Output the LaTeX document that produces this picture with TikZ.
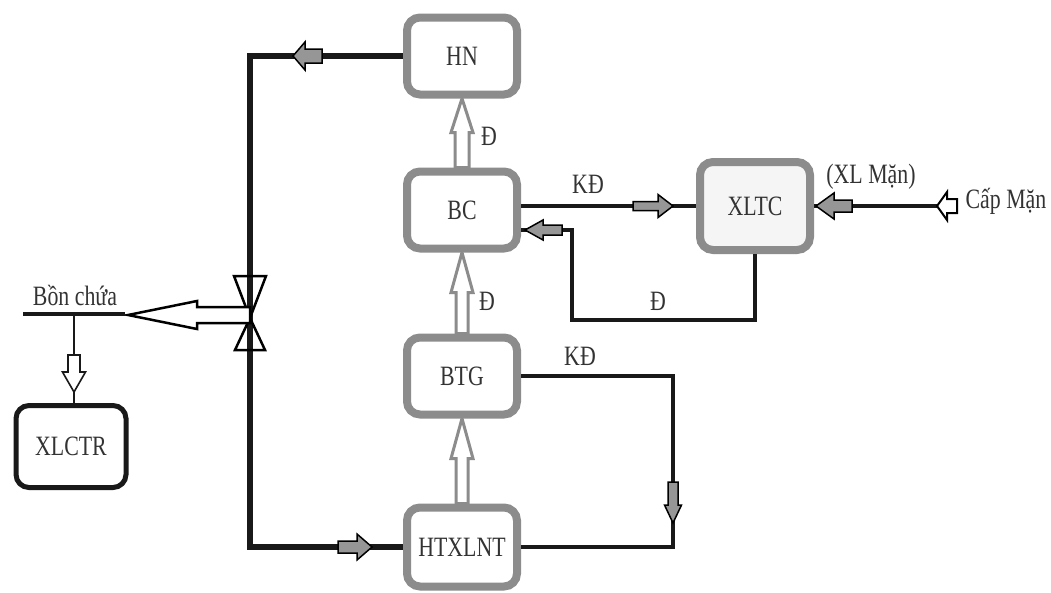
\documentclass[tikz,border=0pt]{standalone}
\usepackage{fontspec}
\setmainfont{Liberation Serif}[FakeStretch=0.78]
\usetikzlibrary{calc}
\definecolor{boxgray}{RGB}{140,140,140}
\definecolor{arrgray}{RGB}{150,150,150}
% #2 start, #3 tip, #4 head length, #5 shaft half width, #6 head half width
\newcommand\hollowarr[6][]{%
  \path (#2) coordinate (haS) (#3) coordinate (haT);
  \path ($(haT)!#4!(haS)$) coordinate (haH);
  \draw[#1] ($(haS)!#5!90:(haT)$) -- ($(haH)!#5!90:(haT)$) -- ($(haH)!#6!90:(haT)$)
    -- (haT) -- ($(haH)!#6!-90:(haT)$) -- ($(haH)!#5!-90:(haT)$) -- ($(haS)!#5!-90:(haT)$) -- cycle;}
\tikzset{
  box/.style={draw=boxgray, line width=8pt, rounded corners=13pt, fill=white,
    minimum width=110pt, minimum height=77pt, inner sep=0pt,
    font=\fontsize{28}{32}\selectfont, text=black!80},
  lbl/.style={font=\fontsize{28}{32}\selectfont, text=black!80, inner sep=0pt, anchor=base},
  pipe/.style={line width=5.5pt, draw=black!90, line join=miter},
  conn/.style={draw=boxgray, line width=3pt, fill=white, line join=miter},
  smallarr/.style={draw=black, line width=1.5pt, fill=arrgray, line join=miter},
  hollowblk/.style={draw=black, line width=2pt, fill=white, line join=miter}
}
\begin{document}
\begin{tikzpicture}[x=1pt,y=-1pt]
\useasboundingbox[fill=white] (0,0) rectangle (1051,592);
% boxes
\node[box] (hn) at (462,56) {HN};
\node[box] (bc) at (462,210) {BC};
\node[box] (btg) at (462,376) {BTG};
\node[box, minimum height=79pt] (ht) at (462,547) {HTXLNT};
\node[box, fill=black!4, minimum height=88pt] (xltc) at (755,206) {XLTC};
\node[box, draw=black!90, line width=5pt, minimum width=110pt, minimum height=82pt] (xlctr) at (71,446.5) {XLCTR};
% coordinates
\coordinate (valve) at (250,318);
\coordinate (bonL) at (23,314);
\coordinate (bonR) at (125,314);
\coordinate (bonJ) at (74,314);
\coordinate (r1) at (572,320);
\coordinate (bcin) at ($(bc.east)+(0,20)$);
\coordinate (kd) at (673,547);
\coordinate (capS) at ($(xltc.east)+(143,0)$);
% main left loop
\draw[pipe] (hn.west) -| (valve) |- (ht.west);
\hollowarr[smallarr]{$(valve|-hn.west)+(72,0)$}{$(valve|-hn.west)+(43,0)$}{12pt}{7pt}{14pt}
\hollowarr[smallarr]{$(valve|-ht.west)+(88,0)$}{$(valve|-ht.west)+(122,0)$}{15pt}{6pt}{13pt}
% valve
\draw[black, line width=2.5pt, line join=miter] ($(valve)+(-16,-42)$) -- ($(valve)+(16,-42)$) -- (valve) -- cycle;
\draw[black, line width=2.5pt, line join=miter] (valve) -- ($(valve)+(-15,32)$) -- ($(valve)+(15,32)$) -- cycle;
% big arrow to storage
\hollowarr[hollowblk, line width=2.5pt]{$(valve)+(0,-3)$}{128,315}{69pt}{8pt}{14pt}
% storage line
\draw[line width=4pt, black!90] (bonL) -- (bonR);
\node[lbl] (lbon) at (75,305) {Bồn chứa};
\draw[line width=2pt, black!90] (bonJ) -- (bonJ|-xlctr.north);
\hollowarr[draw=black!90, line width=1.6pt, fill=white]{$(bonJ)+(0,41)$}{$(bonJ)+(0,78)$}{20pt}{6pt}{11.5pt}
% vertical connectors
\hollowarr[conn]{bc.north}{hn.south}{34pt}{7pt}{11pt}
\hollowarr[conn]{btg.north}{bc.south}{40pt}{6pt}{11pt}
\hollowarr[conn]{ht.north}{btg.south}{40pt}{6pt}{11pt}
\node[lbl] (lD1) at (489,145) {Đ};
\node[lbl] (lD2) at (487,310) {Đ};
% BC -> XLTC
\draw[pipe, line width=4.5pt] (bc.east|-xltc.west) -- (xltc.west);
\hollowarr[smallarr]{$(xltc.west)+(-63,0)$}{$(xltc.west)+(-23,0)$}{15pt}{4.5pt}{11.5pt}
\node[lbl] (lKD1) at (588,193) {KĐ};
% XLTC -> BC return
\draw[pipe, line width=4.5pt] (xltc.south) |- (r1) |- (bcin);
\hollowarr[smallarr]{$(bcin)+(41,0)$}{$(bcin)+(4,0)$}{18pt}{5pt}{10pt}
\node[lbl] (lD3) at (658,310) {Đ};
% Cap Man
\draw[pipe, line width=4pt] (capS) -- (xltc.east);
\hollowarr[smallarr]{$(xltc.east)+(38,0)$}{$(xltc.east)+(2,0)$}{18pt}{6pt}{13pt}
\hollowarr[hollowblk]{capS}{$(capS)+(-20,0)$}{10pt}{7pt}{14pt}
\node[lbl] (lxl) at (871,183) {(XL Mặn)};
\node[lbl] (lcap) at (1006,208) {Cấp Mặn};
% BTG -> HTXLNT
\draw[pipe, line width=4.5pt] (btg.east) -| (kd) -- (ht.east);
\hollowarr[smallarr]{$(kd)+(0,-65)$}{$(kd)+(0,-24)$}{18pt}{5pt}{8.5pt}
\node[lbl] (lKD2) at (580,365) {KĐ};
\end{tikzpicture}
\end{document}
